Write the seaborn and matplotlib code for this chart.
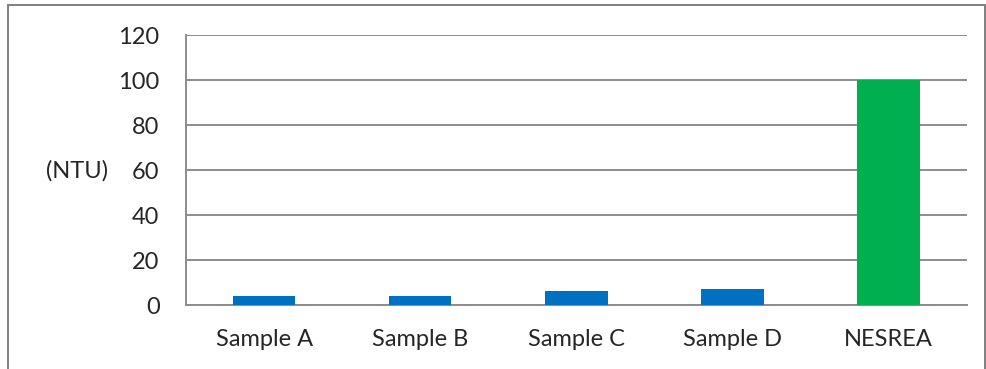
import matplotlib
matplotlib.use("Agg")
import matplotlib.pyplot as plt
import seaborn as sns
import pandas as pd
from matplotlib.patches import Rectangle

categories = ["Sample A", "Sample B", "Sample C", "Sample D", "NESREA"]
values = [4.3, 4.1, 6.3, 7.1, 100]
bar_colors = ["#0070C0", "#0070C0", "#0070C0", "#0070C0", "#00B050"]
y_ticks = [0, 20, 40, 60, 80, 100, 120]
y_label = "(NTU)"

sns.set_theme(style="white")
plt.rcParams["font.family"] = ["Lato", "DejaVu Sans"]

df = pd.DataFrame({"cat": categories, "val": values})

fig = plt.figure(figsize=(9.86, 3.69), dpi=100)
ax = fig.add_axes([186 / 986, 1 - 305.3 / 369, (966.7 - 186) / 986, (305.3 - 35.3) / 369])

sns.barplot(data=df, x="cat", y="val", hue="cat", palette=bar_colors,
            width=0.4, saturation=1, legend=False, ax=ax, zorder=3, linewidth=0)

fs = 17
grid_c = "#8C8C8C"
ax.set_ylim(0, 120)
ax.set_xlim(-0.5, len(categories) - 0.5)
ax.set_yticks(y_ticks)
ax.set_yticklabels([str(v) for v in y_ticks], fontsize=fs)
ax.set_xticks(range(len(categories)))
ax.set_xticklabels(categories, fontsize=fs)
ax.set_xticks([i - 0.5 for i in range(len(categories) + 1)], minor=True)
ax.tick_params(axis="x", which="major", length=0, pad=17)
ax.tick_params(axis="x", which="minor", length=6, width=1.3, color=grid_c, direction="out")
ax.tick_params(axis="y", which="major", length=6, width=1.3, color=grid_c, direction="out", pad=13)
ax.set_xlabel("")
ax.set_ylabel("")
ax.yaxis.grid(True, color=grid_c, linewidth=1.4)
ax.set_axisbelow(True)
for s in ["top", "right"]:
    ax.spines[s].set_visible(False)
for s in ["left", "bottom"]:
    ax.spines[s].set_color(grid_c)
    ax.spines[s].set_linewidth(1.4)

fig.text(77 / 986, 1 - 171 / 369, y_label, fontsize=fs, ha="center", va="center")

frame = Rectangle((8 / 986, -0.05), (985 - 8) / 986, 1 - 5 / 369 + 0.05,
                  transform=fig.transFigure, fill=False, edgecolor="#7F7F7F",
                  linewidth=1.4, clip_on=False)
fig.patches.append(frame)

fig.savefig("out.png", dpi=100)
